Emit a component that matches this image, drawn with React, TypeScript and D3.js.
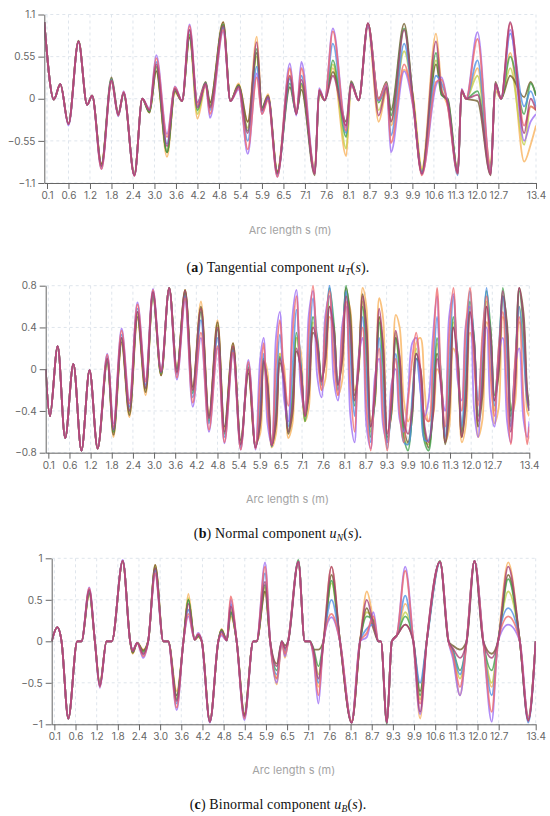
import React, { useEffect, useRef } from "react";
import * as d3 from "d3";

// x ticks (arc length s, m) shared by the three panels
const xTickLabels = ["0.1", "0.6", "1.2", "1.8", "2.4", "3.0", "3.6", "4.2", "4.8", "5.4", "5.9", "6.5",
  "7.1", "7.6", "8.1", "8.7", "9.3", "9.9", "10.6", "11.3", "12.0", "12.7", "13.4"];
const yTicksA = [-1.1, -0.55, 0, 0.55, 1.1];
const yTicksB = [-0.8, -0.4, 0, 0.4, 0.8];
const yTicksC = [-1, -0.5, 0, 0.5, 1];

// draw order: orange, yellow, brown, green, blue, purple, salmon, maroon
const seriesColors = ["#f8b15a", "#c3cf48", "#6e5a28", "#40a04a", "#4b8ee6", "#9b6cf3", "#f06a6a", "#a83e74"];

// (a) tangential component
const sA = [0, 0.26, 0.41, 0.6, 0.88, 1.12, 1.26, 1.52, 1.8, 1.99, 2.14, 2.44, 2.66, 2.86, 3.05, 3.35, 3.57, 3.77, 3.98, 4.2, 4.43, 4.55, 4.92, 5.12, 5.35, 5.57, 5.78, 5.9, 6.07, 6.33, 6.68, 6.86, 7.0, 7.33, 7.43, 7.56, 7.75, 8.06, 8.19, 8.4, 8.66, 8.96, 9.18, 9.3, 9.67, 9.92, 10.21, 10.67, 10.85, 11.05, 11.38, 11.5, 11.65, 12.02, 12.45, 12.6, 12.75, 12.92, 13.18, 13.3, 13.4];
const tanO = [1, -0.01, 0.19, -0.33, 0.75, -0.08, 0.04, -0.85, 0.21, -0.2, 0.08, -0.98, 0, -0.18, 0.36, -0.76, 0.08, -0.03, 0.8, -0.26, 0.17, -0.05, 1.0, -0.03, 0.2, -0.3, 0.81, -0.12, 0.06, -0.94, 0.38, -0.17, 0.16, -0.9, 0.06, -0.02, 0.4, -0.75, 0.18, -0.02, 0.94, -0.3, 0.1, -0.35, 0.38, 0.05, -0.9, 0.85, 0.15, -0.1, -0.92, 0.08, 0, 0.4, -0.85, 0.1, 0, 0.6, -0.82, -0.6, -0.35];
const tanY = [1, -0.01, 0.19, -0.33, 0.75, -0.08, 0.04, -0.86, 0.23, -0.2, 0.08, -0.99, 0, -0.17, 0.4, -0.7, 0.1, -0.03, 0.82, -0.2, 0.2, -0.08, 0.96, -0.03, 0.18, -0.38, 0.55, -0.15, 0.02, -0.96, 0.28, -0.18, 0.18, -0.93, 0.08, -0.02, 0.45, -0.65, 0.2, -0.02, 0.96, -0.15, 0.15, -0.3, 0.62, 0, -0.92, 0.5, 0.1, -0.05, -0.95, 0.1, 0, 0.3, -0.9, 0.15, 0, 0.4, -0.6, -0.1, -0.15];
const tanP = [1, -0.01, 0.19, -0.35, 0.74, -0.08, 0.04, -0.92, 0.22, -0.23, 0.1, -1.01, 0, -0.13, 0.57, -0.46, 0.16, -0.03, 0.97, -0.05, 0.18, -0.25, 0.88, -0.03, 0.12, -0.72, 0.33, -0.2, 0.02, -1.02, 0.46, -0.22, 0.48, -0.96, 0.14, -0.02, 0.92, -0.38, 0.18, -0.02, 0.95, -0.02, 0.18, -0.7, 0.36, -0.1, -0.98, 0.18, 0.28, -0.08, -0.96, 0.13, 0, 0.87, -0.96, 0.18, 0, 0.9, -0.55, -0.3, -0.2];
const tanR = [1, -0.01, 0.19, -0.33, 0.75, -0.08, 0.04, -0.92, 0.24, -0.22, 0.09, -1.01, 0, -0.14, 0.53, -0.5, 0.15, -0.03, 0.95, -0.08, 0.19, -0.2, 0.9, -0.03, 0.14, -0.66, 0.28, -0.2, -0.02, -1.02, 0.4, -0.2, 0.4, -0.98, 0.12, -0.02, 0.88, -0.42, 0.19, -0.02, 0.98, 0, 0.2, -0.58, 0.45, -0.08, -1, 0.22, 0.25, -0.1, -0.98, 0.12, 0, 0.78, -0.98, 0.2, 0, 0.98, -0.35, -0.1, -0.15];
const tanB = [1, -0.01, 0.19, -0.33, 0.75, -0.08, 0.04, -0.9, 0.25, -0.21, 0.08, -1, 0, -0.15, 0.48, -0.59, 0.14, -0.03, 0.9, -0.1, 0.2, -0.15, 0.93, -0.03, 0.15, -0.55, 0.42, -0.17, 0, -1, 0.26, -0.2, 0.3, -0.98, 0.11, -0.02, 0.72, -0.45, 0.2, -0.02, 0.97, -0.02, 0.2, -0.48, 0.72, -0.05, -0.98, 0.3, 0.2, -0.05, -1, 0.11, 0, 0.5, -0.98, 0.2, 0, 0.85, -0.1, 0.1, -0.1];
const tanG = [1, -0.01, 0.19, -0.33, 0.75, -0.08, 0.04, -0.88, 0.26, -0.22, 0.08, -1, 0, -0.17, 0.42, -0.7, 0.12, -0.03, 0.84, -0.15, 0.21, -0.1, 0.97, -0.03, 0.17, -0.42, 0.65, -0.12, 0.02, -0.97, 0.2, -0.2, 0.2, -0.97, 0.1, -0.02, 0.5, -0.5, 0.21, -0.02, 0.98, -0.05, 0.2, -0.22, 0.92, -0.02, -0.96, 0.6, 0.05, -0.02, -0.97, 0.11, 0, 0.1, -0.95, 0.2, 0, 0.55, -0.2, 0.2, 0.05];
const tanK = [1, -0.01, 0.19, -0.33, 0.76, -0.08, 0.04, -0.85, 0.28, -0.19, 0.06, -1, 0, -0.18, 0.36, -0.7, 0.1, -0.03, 0.8, -0.05, 0.22, -0.05, 1.0, -0.03, 0.18, -0.3, 0.6, -0.12, 0.04, -0.95, 0.15, -0.18, 0.12, -1, 0.08, -0.02, 0.35, -0.3, 0.23, -0.02, 0.98, 0, 0.22, -0.15, 0.98, 0, -0.96, 0.45, 0.05, 0, -0.98, 0.1, 0, -0.03, -1, 0.22, 0, 0.3, 0.02, 0.22, 0.04];
const tanM = [1, -0.01, 0.19, -0.33, 0.75, -0.08, 0.04, -0.88, 0.24, -0.21, 0.08, -1, 0, -0.15, 0.45, -0.62, 0.13, -0.03, 0.9, -0.12, 0.2, -0.12, 0.95, -0.03, 0.16, -0.45, 0.74, -0.15, 0.02, -0.98, 0.3, -0.2, 0.25, -0.98, 0.11, -0.02, 0.3, -0.35, 0.2, -0.02, 0.99, -0.22, 0.15, -0.3, 0.9, -0.02, -0.98, 0.75, 0.1, -0.05, -0.97, 0.11, 0, 0.05, -0.99, 0.2, 0, 1.0, -0.45, 0, -0.15];

// (b) normal component
const sB = [0, 0.14, 0.32, 0.5, 0.71, 0.94, 1.17, 1.4, 1.67, 1.85, 2.08, 2.3, 2.53, 2.76, 2.97, 3.2, 3.43, 3.65, 3.88, 4.1, 4.33, 4.56, 4.8, 5.0, 5.24, 5.45, 5.63, 5.8, 5.91, 6.01, 6.12, 6.24, 6.36, 6.47, 6.59, 6.71, 6.83, 6.94, 7.06, 7.17, 7.26, 7.36, 7.46, 7.56, 7.65, 7.75, 7.85, 7.95, 8.05, 8.15, 8.27, 8.39, 8.5, 8.62, 8.73, 8.85, 8.97, 9.09, 9.2, 9.32, 9.44, 9.56, 9.67, 9.79, 9.91, 10.05, 10.18, 10.32, 10.46, 10.59, 10.73, 10.87, 11.0, 11.14, 11.27, 11.41, 11.55, 11.69, 11.82, 11.96, 12.1, 12.23, 12.37, 12.51, 12.64, 12.74, 12.82, 12.9, 12.98, 13.05, 13.13, 13.21, 13.29, 13.36, 13.4];
const norO = [0, -0.45, 0.22, -0.66, 0.05, -0.78, -0.01, -0.76, 0.08, -0.65, 0.24, -0.46, 0.48, -0.25, 0.72, -0.06, 0.78, 0, 0.76, -0.18, 0.65, -0.45, 0.47, -0.57, 0.25, -0.7, -0.02, -0.7, -0.62,
  0.1, -0.03, -0.75, -0.62, 0.15, 0.03, -0.66, -0.52, 0.3, 0.18, -0.5, -0.37, 0.4, 0.31, -0.2, -0.1, 0.5, 0.39, -0.25, -0.11, 0.7, 0.57, -0.2, -0.05, 0.78, 0.59, -0.5, -0.32, 0.68, 0.49, -0.6, -0.43, 0.52,
  0.4, -0.3, -0.5, -0.35, 0.25, 0.3, -0.2, -0.5, -0.45,
  0, -0.11, -0.7, -0.57, 0.2, 0.07, -0.7, -0.54, 0.35, 0.2, -0.65, -0.49, 0.45, 0.3, -0.52, -0.37, 0.5, 0.36, -0.45, -0.32, 0.45, 0.32, -0.4, -0.45];
const norY = [0, -0.45, 0.22, -0.66, 0.05, -0.78, -0.01, -0.76, 0.1, -0.6, 0.28, -0.42, 0.52, -0.2, 0.72, -0.05, 0.78, -0.02, 0.74, -0.21, 0.58, -0.48, 0.42, -0.6, 0.22, -0.72, 0, -0.75, -0.41,
  0.1, -0.24, -0.74, -0.38, 0.15, -0.15, -0.6, -0.24, 0.3, -0.02, -0.5, -0.12, 0.45, 0.21, -0.15, 0.19, 0.7, 0.34, -0.2, 0.18, 0.75, 0.33, -0.3, 0.08, 0.65, 0.15, -0.6, -0.16, 0.5, 0.03, -0.68, -0.27, 0.35,
  -0.05, -0.66, -0.72, -0.3, 0.2, -0.1, -0.68, -0.72, -0.3,
  0.25, -0.13, -0.7, -0.24, 0.45, 0.01, -0.65, -0.15, 0.6, 0.14, -0.55, -0.07, 0.65, 0.23, -0.4, 0.04, 0.7, 0.22, -0.5, -0.06, 0.6, 0.24, -0.3, -0.4];
const norP = [0, -0.45, 0.22, -0.66, 0.05, -0.78, -0.01, -0.76, 0.15, -0.52, 0.39, -0.3, 0.64, -0.1, 0.77, -0.01, 0.77, -0.1, 0.65, -0.36, 0.3, -0.6, 0.2, -0.71, 0.15, -0.77, 0.09, -0.77, 0.09,
  0.3, -0.52, -0.72, 0.3, 0.55, -0.29, -0.5, 0.51, 0.76, -0.17, -0.4, 0.52, 0.75, -0.07, -0.27, 0.51, 0.7, -0.1, -0.3, 0.42, 0.6, -0.44, -0.7, 0.1, 0.3, -0.55, -0.76, -0.07, 0.1, -0.54, -0.7, -0.14, 0,
  -0.48, -0.6, -0.25, 0.25, 0.3, -0.2, -0.45, -0.3, 0.3,
  0.7, -0.18, -0.4, 0.5, 0.72, -0.1, -0.3, 0.42, 0.6, -0.4, -0.65, 0.19, 0.4, -0.36, -0.55, 0.13, 0.3, -0.5, -0.7, 0.02, 0.2, -0.48, -0.65, -0.5];
const norR = [0, -0.45, 0.22, -0.66, 0.05, -0.78, -0.01, -0.76, 0.14, -0.55, 0.37, -0.33, 0.62, -0.12, 0.76, -0.02, 0.78, -0.08, 0.68, -0.32, 0.35, -0.58, 0.22, -0.7, 0.16, -0.77, 0.07, -0.76, -0.11,
  0.25, -0.39, -0.73, 0.05, 0.47, -0.06, -0.35, 0.33, 0.7, -0.05, -0.45, 0.36, 0.8, 0.15, -0.2, 0.42, 0.75, 0.1, -0.25, 0.33, 0.65, -0.16, -0.6, 0.05, 0.4, -0.37, -0.78, -0.14, 0.2, -0.44, -0.78, -0.21, 0.1,
  -0.42, -0.7, -0.3, 0.1, 0.35, 0, -0.45, -0.5, 0.1,
  0.78, -0.08, -0.55, 0.31, 0.78, 0.01, -0.4, 0.37, 0.78, 0.05, -0.35, 0.33, 0.7, -0.05, -0.45, 0.2, 0.55, -0.28, -0.72, 0.07, 0.5, -0.29, -0.72, -0.55];
const norB = [0, -0.45, 0.22, -0.66, 0.05, -0.78, -0.01, -0.76, 0.12, -0.58, 0.33, -0.36, 0.58, -0.15, 0.74, -0.03, 0.78, -0.05, 0.7, -0.27, 0.47, -0.52, 0.3, -0.65, 0.18, -0.75, 0.05, -0.75, -0.3,
  0.15, -0.3, -0.74, -0.21, 0.33, -0.11, -0.55, 0.01, 0.57, 0.06, -0.45, 0.12, 0.68, 0.27, -0.15, 0.33, 0.8, 0.3, -0.2, 0.28, 0.75, 0.15, -0.45, 0.03, 0.5, -0.1, -0.7, -0.2, 0.3, -0.23, -0.76, -0.31, 0.15,
  -0.2, -0.7, -0.72, -0.25, 0.1, -0.2, -0.68, -0.68, -0.1,
  0.5, -0.08, -0.65, 0.03, 0.7, 0.08, -0.55, 0.1, 0.75, 0.23, -0.3, 0.24, 0.78, 0.22, -0.35, 0.18, 0.7, 0.08, -0.55, 0.03, 0.6, 0.15, -0.3, -0.4];
const norG = [0, -0.45, 0.22, -0.66, 0.05, -0.78, -0.01, -0.76, 0.1, -0.6, 0.3, -0.4, 0.55, -0.18, 0.73, -0.04, 0.78, -0.03, 0.73, -0.23, 0.55, -0.5, 0.38, -0.62, 0.2, -0.73, 0.02, -0.75, -0.45,
  0.1, -0.19, -0.74, -0.44, 0.12, -0.13, -0.6, -0.27, 0.35, 0.05, -0.5, -0.15, 0.5, 0.29, -0.1, 0.21, 0.78, 0.45, -0.15, 0.18, 0.8, 0.4, -0.35, -0.02, 0.6, 0.16, -0.65, -0.27, 0.45, 0.05, -0.7, -0.35, 0.3,
  0, -0.65, -0.78, -0.4, 0.15, -0.05, -0.7, -0.78, -0.35,
  0.3, -0.05, -0.7, -0.28, 0.5, 0.12, -0.6, -0.16, 0.65, 0.27, -0.45, -0.03, 0.75, 0.4, -0.25, 0.11, 0.78, 0.35, -0.45, -0.03, 0.75, 0.4, -0.25, -0.35];
const norK = [0, -0.45, 0.22, -0.66, 0.05, -0.78, -0.01, -0.76, 0.07, -0.63, 0.26, -0.44, 0.5, -0.22, 0.71, -0.06, 0.78, 0, 0.76, -0.17, 0.6, -0.45, 0.45, -0.55, 0.25, -0.68, -0.04, -0.74, -0.53,
  0.06, -0.14, -0.73, -0.53, 0.06, -0.11, -0.62, -0.42, 0.17, 0.02, -0.45, -0.25, 0.35, 0.24, -0.1, 0.08, 0.6, 0.41, -0.15, 0.08, 0.78, 0.52, -0.25, -0.01, 0.72, 0.4, -0.55, -0.29, 0.5, 0.21, -0.65, -0.41, 0.3,
  0.1, -0.55, -0.7, -0.45, 0.1, 0, -0.6, -0.75, -0.45,
  0.15, -0.07, -0.72, -0.44, 0.4, 0.14, -0.65, -0.35, 0.55, 0.28, -0.55, -0.26, 0.6, 0.38, -0.3, -0.05, 0.7, 0.43, -0.4, -0.11, 0.78, 0.54, -0.2, -0.35];
const norM = [0, -0.45, 0.22, -0.66, 0.05, -0.78, -0.01, -0.76, 0.1, -0.58, 0.3, -0.4, 0.55, -0.18, 0.74, -0.03, 0.78, -0.03, 0.75, -0.2, 0.58, -0.47, 0.4, -0.6, 0.22, -0.72, 0, -0.75, -0.5,
  0.08, -0.16, -0.73, -0.48, 0.1, -0.11, -0.6, -0.36, 0.2, 0.01, -0.45, -0.2, 0.4, 0.24, -0.12, 0.1, 0.6, 0.38, -0.15, 0.11, 0.7, 0.4, -0.3, 0, 0.7, 0.33, -0.55, -0.21, 0.58, 0.22, -0.62, -0.32, 0.37,
  0.12, -0.5, -0.62, -0.38, 0.15, 0, -0.55, -0.7, -0.45,
  0.1, -0.14, -0.7, -0.37, 0.4, 0.09, -0.65, -0.29, 0.55, 0.24, -0.5, -0.17, 0.6, 0.33, -0.3, 0.02, 0.75, 0.35, -0.6, -0.19, 0.78, 0.47, -0.25, -0.4];

// (c) binormal component
const sC = [0, 0.17, 0.27, 0.43, 0.65, 0.77, 0.99, 1.15, 1.29, 1.48, 1.63, 1.94, 2.15, 2.22, 2.35, 2.52, 2.66, 2.86, 3.09, 3.23, 3.47, 3.66, 3.8, 3.98, 4.08, 4.18, 4.41, 4.65, 4.74, 4.89, 5.0, 5.17, 5.39, 5.6, 5.68, 5.88, 6.02, 6.21, 6.35, 6.44, 6.53, 6.82, 7.0, 7.14, 7.22, 7.34, 7.46, 7.65, 7.85, 8.13, 8.37, 8.56, 8.75, 8.89, 8.96, 9.13, 9.27, 9.41, 9.65, 9.88, 10.1, 10.32, 10.76, 11.04, 11.18, 11.42, 11.64, 11.9, 12.19, 12.47, 12.68, 12.88, 13.1, 13.26, 13.4];
const binO = [0, 0.17, 0, -0.93, 0, 0, 0.57, 0, -0.51, 0, 0, 0.96, 0, -0.15, -0.02, -0.1, 0, 0.92, 0, 0, -0.6, 0, 0.57, 0.02, 0.05, 0, -0.95, 0, 0.15, 0.01, 0.3, 0, -0.87, 0, 0, 0.6, 0, -0.52, 0, -0.2, 0, 0.94, 0, 0, -0.12, -0.55, 0, 0.9, 0, -0.96, 0, 0.6, 0.25, 0, 0, -0.98, 0, 0.07, 0.45, 0, -0.93, 0, 0.95, 0, -0.15, -0.65, 0, 0.97, 0, -0.55, 0, 0.95, 0, -0.9, 0];
const binY = [0, 0.17, 0, -0.93, 0, 0, 0.59, 0, -0.52, 0, 0, 0.97, 0, -0.14, -0.02, -0.12, 0, 0.9, 0, 0, -0.68, 0, 0.52, 0.02, 0.06, 0, -0.97, 0, 0.14, 0.01, 0.38, 0, -0.9, 0, 0, 0.65, 0, -0.45, 0, -0.15, 0, 0.96, 0, 0, -0.1, -0.4, 0, 0.7, 0, -0.98, 0, 0.35, 0.25, 0, 0, -0.98, 0, 0.07, 0.35, 0, -0.7, 0, 0.96, 0, -0.12, -0.45, 0, 0.97, 0, -0.5, 0, 0.6, 0, -0.92, 0];
const binP = [0, 0.17, 0, -0.93, 0, 0, 0.65, 0, -0.56, 0, 0, 0.98, 0, -0.1, -0.02, -0.2, 0, 0.8, 0, 0, -0.83, 0, 0.3, 0.02, 0.1, 0, -0.98, 0, 0.07, 0.01, 0.5, 0, -0.95, 0, 0, 0.95, 0, -0.5, 0, -0.18, 0, 0.96, 0, 0, -0.18, -0.75, 0, 0.29, 0, -0.98, 0, 0.05, 0.35, 0, 0, -0.98, 0, 0.07, 0.9, 0, -0.88, 0, 0.96, 0, -0.2, -0.65, 0, 0.97, 0, -0.97, 0, 0.2, 0, -0.92, 0];
const binR = [0, 0.17, 0, -0.93, 0, 0, 0.64, 0, -0.55, 0, 0, 0.97, 0, -0.11, -0.02, -0.18, 0, 0.82, 0, 0, -0.8, 0, 0.33, 0.02, 0.09, 0, -0.97, 0, 0.09, 0.01, 0.54, 0, -0.93, 0, 0, 0.9, 0, -0.45, 0, -0.15, 0, 0.96, 0, 0, -0.15, -0.65, 0, 0.33, 0, -0.98, 0, 0.1, 0.3, 0, 0, -0.98, 0, 0.07, 0.85, 0, -0.75, 0, 0.96, 0, -0.15, -0.55, 0, 0.97, 0, -0.85, 0, 0.3, 0, -0.95, 0];
const binB = [0, 0.17, 0, -0.93, 0, 0, 0.62, 0, -0.54, 0, 0, 0.97, 0, -0.12, -0.02, -0.16, 0, 0.85, 0, 0, -0.75, 0, 0.38, 0.02, 0.08, 0, -0.97, 0, 0.11, 0.01, 0.45, 0, -0.92, 0, 0, 0.82, 0, -0.4, 0, -0.12, 0, 0.96, 0, 0, -0.12, -0.5, 0, 0.5, 0, -0.98, 0, 0.15, 0.2, 0, 0, -0.98, 0, 0.07, 0.55, 0, -0.5, 0, 0.95, 0, -0.12, -0.4, 0, 0.97, 0, -0.65, 0, 0.4, 0, -0.98, 0];
const binG = [0, 0.17, 0, -0.93, 0, 0, 0.6, 0, -0.54, 0, 0, 0.97, 0, -0.12, -0.02, -0.13, 0, 0.88, 0, 0, -0.7, 0, 0.5, 0.02, 0.07, 0, -0.97, 0, 0.13, 0.01, 0.35, 0, -0.9, 0, 0, 0.68, 0, -0.35, 0, -0.1, 0, 0.98, 0, 0, -0.08, -0.3, 0, 0.73, 0, -0.98, 0, 0.3, 0.25, 0, 0, -1, 0, 0.07, 0.3, 0, -0.65, 0, 0.97, 0, -0.1, -0.35, 0, 0.97, 0, -0.35, 0, 0.75, 0, -0.95, 0];
const binK = [0, 0.17, 0, -0.93, 0, 0, 0.58, 0, -0.52, 0, 0, 0.97, 0, -0.14, -0.02, -0.11, 0, 0.92, 0, 0, -0.65, 0, 0.5, 0.02, 0.06, 0, -0.97, 0, 0.14, 0.01, 0.35, 0, -0.88, 0, 0, 0.6, 0, -0.27, 0, -0.05, 0, 0.96, 0, 0, -0.1, -0.1, 0, 0.8, 0, -0.98, 0, 0.4, 0.15, 0, 0, -0.98, 0, 0.07, 0.2, 0, -0.6, 0, 0.96, 0, -0.05, -0.1, 0, 0.97, 0, -0.15, 0, 0.8, 0, -0.94, 0];
const binM = [0, 0.17, 0, -0.93, 0, 0, 0.62, 0, -0.54, 0, 0, 0.97, 0, -0.12, -0.02, -0.15, 0, 0.88, 0, 0, -0.72, 0, 0.45, 0.02, 0.08, 0, -0.97, 0, 0.12, 0.01, 0.42, 0, -0.9, 0, 0, 0.72, 0, -0.3, 0, -0.08, 0, 0.96, 0, 0, -0.1, -0.45, 0, 0.9, 0, -0.98, 0, 0.5, 0.2, 0, 0, -0.98, 0, 0.07, 0.2, 0, -0.85, 0, 0.96, 0, -0.08, -0.2, 0, 0.97, 0, -0.2, 0, 0.9, 0, -0.96, 0];

const N_SAMPLES = 184; // category axis: a tick every 8 samples, plus the last one

type Panel = {
  s: number[];
  series: number[][];
  yTicks: number[];
  left: number; right: number; top: number; bottom: number;
  titleY: number; captionY: number;
  letter: string; name: string; sub: string;
  curve: d3.CurveFactory;
};

const panels: Panel[] = [
  { s: sA, series: [tanO, tanY, tanK, tanG, tanB, tanP, tanR, tanM], yTicks: yTicksA,
    left: 44.3, right: 536, top: 14.5, bottom: 183, titleY: 234, captionY: 271.5,
    letter: "a", name: "Tangential", sub: "T", curve: d3.curveMonotoneX },
  { s: sB, series: [norO, norY, norK, norG, norB, norP, norR, norM], yTicks: yTicksB,
    left: 45.7, right: 529.3, top: 285.7, bottom: 452.7, titleY: 503, captionY: 537.5,
    letter: "b", name: "Normal", sub: "N", curve: d3.curveCatmullRom.alpha(0.5) },
  { s: sC, series: [binO, binY, binK, binG, binB, binP, binR, binM], yTicks: yTicksC,
    left: 51.7, right: 535.7, top: 558.3, bottom: 724.3, titleY: 774.5, captionY: 808.5,
    letter: "c", name: "Binormal", sub: "B", curve: d3.curveMonotoneX },
];

function drawPanel(svg: d3.Selection<SVGSVGElement, unknown, null, undefined>, p: Panel, pi: number) {
  const w = p.right - p.left;
  const h = p.bottom - p.top;
  const tickS = xTickLabels.map(Number);
  const tickIdx = xTickLabels.map((_, k) => (k < xTickLabels.length - 1 ? 1 + 8 * k : N_SAMPLES - 1));
  const x = d3.scaleLinear()
    .domain([0, ...tickS])
    .range([0, ...tickIdx.map((i) => (i / (N_SAMPLES - 1)) * w)]);
  const y = d3.scaleLinear().domain([p.yTicks[0], p.yTicks[p.yTicks.length - 1]]).range([h, 0]);

  const g = svg.append("g").attr("transform", `translate(${p.left},${p.top})`);

  g.append("clipPath").attr("id", `clip-${pi}`)
    .append("rect").attr("x", 0).attr("y", -1).attr("width", w).attr("height", h + 2);

  const grid = g.append("g").attr("stroke", "#dfe5ec").attr("stroke-dasharray", "3 3");
  grid.selectAll("line.h").data(p.yTicks).join("line").attr("class", "h")
    .attr("x1", 0).attr("x2", w).attr("y1", (d) => y(d)).attr("y2", (d) => y(d));
  grid.selectAll("line.v").data(tickS).join("line").attr("class", "v")
    .attr("y1", 0).attr("y2", h).attr("x1", (d) => x(d)).attr("x2", (d) => x(d));

  const line = d3.line<number>()
    .x((_, i) => x(p.s[i]))
    .y((d) => y(d))
    .curve(p.curve);

  g.append("g").attr("clip-path", `url(#clip-${pi})`)
    .selectAll("path").data(p.series).join("path")
    .attr("d", (d) => line(d))
    .attr("fill", "none")
    .attr("stroke", (_, i) => seriesColors[i])
    .attr("stroke-width", 1.8)
    .attr("stroke-opacity", 0.78)
    .attr("stroke-linejoin", "round");

  const yAxis = g.append("g")
    .call(d3.axisLeft(y).tickValues(p.yTicks).tickSize(6).tickSizeOuter(0).tickPadding(3)
      .tickFormat(d3.format("") as any));
  const xAxis = g.append("g").attr("transform", `translate(0,${h})`)
    .call(d3.axisBottom(x).tickValues(tickS).tickSize(6).tickSizeOuter(0).tickPadding(3)
      .tickFormat((_, k) => xTickLabels[k]));
  [yAxis, xAxis].forEach((a) => {
    a.attr("font-family", "Inter, sans-serif").attr("font-size", 10);
    a.selectAll("path.domain, line").attr("stroke", "#666");
    a.selectAll("text").attr("fill", "#666");
  });

  g.append("text")
    .attr("x", w / 2).attr("y", p.titleY - p.top)
    .attr("text-anchor", "middle")
    .attr("font-family", "Inter, sans-serif").attr("font-size", 11)
    .attr("fill", "#a3a3a3")
    .text("Arc length s (m)");

  const cap = svg.append("text")
    .attr("x", 278).attr("y", p.captionY)
    .attr("text-anchor", "middle")
    .attr("font-family", "'Liberation Serif', serif").attr("font-size", 14)
    .attr("letter-spacing", 0.15)
    .attr("fill", "#111");
  cap.append("tspan").text("(");
  cap.append("tspan").attr("font-weight", "bold").text(p.letter);
  cap.append("tspan").text(`) ${p.name} component `);
  cap.append("tspan").attr("font-style", "italic").text("u");
  cap.append("tspan").attr("font-style", "italic").attr("font-size", 9.5).attr("dy", 3).text(p.sub);
  cap.append("tspan").attr("dy", -3).text("(");
  cap.append("tspan").attr("font-style", "italic").text("s");
  cap.append("tspan").text(").");
}

const App: React.FC = () => {
  const svgRef = useRef<SVGSVGElement>(null);

  useEffect(() => {
    const svg = d3.select(svgRef.current!);
    svg.selectAll("*").remove();
    panels.forEach((p, i) => drawPanel(svg as any, p, i));
  }, []);

  return (
    <svg ref={svgRef} width={550} height={816} viewBox="0 0 550 816"
      style={{ position: "absolute", left: 0, top: 0, background: "#fff" }} />
  );
};

export default App;
